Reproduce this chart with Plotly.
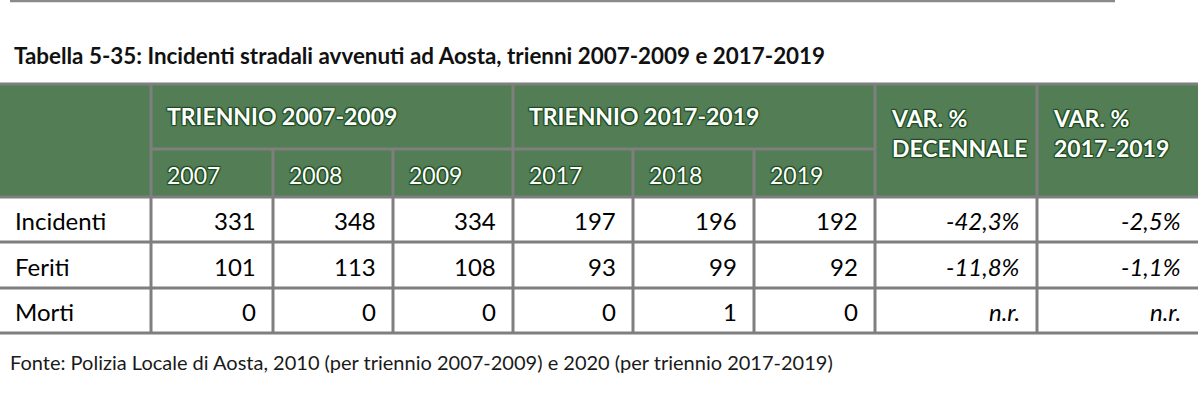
import plotly.graph_objects as go

# ---- data ----
title = "Tabella 5-35: Incidenti stradali avvenuti ad Aosta, trienni 2007-2009 e 2017-2019"
groups = ["TRIENNIO 2007-2009", "TRIENNIO 2017-2019"]
years = ["2007", "2008", "2009", "2017", "2018", "2019"]
var_headers = ["VAR. %<br>DECENNALE", "VAR. %<br>2017-2019"]
rows = ["Incidenti", "Feriti", "Morti"]
incidenti = [331, 348, 334, 197, 196, 192]
feriti = [101, 113, 108, 93, 99, 92]
morti = [0, 0, 0, 0, 1, 0]
var_decennale = ["-42,3%", "-11,8%", "n.r."]
var_2017_2019 = ["-2,5%", "-1,1%", "n.r."]
footer = "Fonte: Polizia Locale di Aosta, 2010 (per triennio 2007-2009) e 2020 (per triennio 2017-2019)"

values = [incidenti, feriti, morti]

# ---- layout (pixel grid) ----
W, H = 1200, 406
col_edges = [0, 151, 273, 393, 513, 633, 754, 875, 1037, 1198]
y_top, y_mid, y_head = 84, 149, 197
row_edges = [197, 242, 288, 333]
GREEN = "#537E55"
GRAY = "#7F7F7F"
FONT = "Lato"

shapes = []
annotations = []

def line(x0, y0, x1, y1, w=3, color=GRAY):
    shapes.append(dict(type="line", xref="x", yref="y", x0=x0, y0=y0, x1=x1, y1=y1,
                       line=dict(color=color, width=w)))

def text(x, y, s, anchor="left", size=23, color="black", bold=False, italic=False,
         shadow=None, valign="middle", family=FONT):
    f = dict(family=family, size=size, color=color,
             weight="bold" if bold else "normal",
             style="italic" if italic else "normal")
    if shadow:
        f["shadow"] = shadow
    annotations.append(dict(x=x, y=y, xref="x", yref="y", text=s, showarrow=False,
                            xanchor=anchor, yanchor=valign, align=anchor, font=f))

# top decorative line
line(10, 1, 1115, 1, w=2.5, color="#8A8A8A")

# title
text(12, 55, title, size=22.4, bold=True, color="#111111")

# header background
shapes.append(dict(type="rect", xref="x", yref="y", x0=0, y0=y_top, x1=col_edges[-1], y1=y_head,
                   fillcolor=GREEN, line=dict(width=0), layer="below"))

# borders
line(0, y_top, col_edges[-1], y_top)
line(col_edges[1], y_mid, col_edges[7], y_mid)
for ry in row_edges:
    line(0, ry, col_edges[-1], ry)
for i in [1, 4, 7, 8]:
    line(col_edges[i], y_top, col_edges[i], row_edges[-1])
for i in [2, 3, 5, 6]:
    line(col_edges[i], y_mid, col_edges[i], row_edges[-1])

hdr_shadow = "1px 1px 1px #1E4A20, -1px -1px 1px #1E4A20, 1px -1px 1px #1E4A20, -1px 1px 1px #1E4A20"

# group headers
text(col_edges[1] + 14, 116, groups[0], bold=True, color="white", shadow=hdr_shadow)
text(col_edges[4] + 14, 116, groups[1], bold=True, color="white", shadow=hdr_shadow)
# year headers
for i, yv in enumerate(years):
    text(col_edges[1 + i] + 14, 175, yv, color="white", shadow=hdr_shadow)
# var headers
for i, vh in enumerate(var_headers):
    text(col_edges[7 + i] + 14, 102, vh, bold=True, color="white", shadow=hdr_shadow, valign="top")

# data rows
for r, name in enumerate(rows):
    yc = (row_edges[r] + row_edges[r + 1]) / 2 + 1
    text(13, yc, name, size=24)
    for c, v in enumerate(values[r]):
        text(col_edges[2 + c] - 15, yc, str(v), anchor="right", size=24)
    text(col_edges[8] - 15, yc, var_decennale[r], anchor="right", italic=True, size=24)
    text(col_edges[9] - 15, yc, var_2017_2019[r], anchor="right", italic=True, size=24)

# footer
text(8, 362, footer, size=20, color="#1a1a1a")

fig = go.Figure()
fig.update_layout(
    width=W, height=H, margin=dict(l=0, r=0, t=0, b=0),
    paper_bgcolor="white", plot_bgcolor="white",
    xaxis=dict(range=[0, W], visible=False, fixedrange=True),
    yaxis=dict(range=[H, 0], visible=False, fixedrange=True),
    shapes=shapes, annotations=annotations, showlegend=False,
)
fig.write_html("out.html", config={"displayModeBar": False, "staticPlot": True},
               post_script="document.body.style.margin='0';document.body.style.padding='0';")
